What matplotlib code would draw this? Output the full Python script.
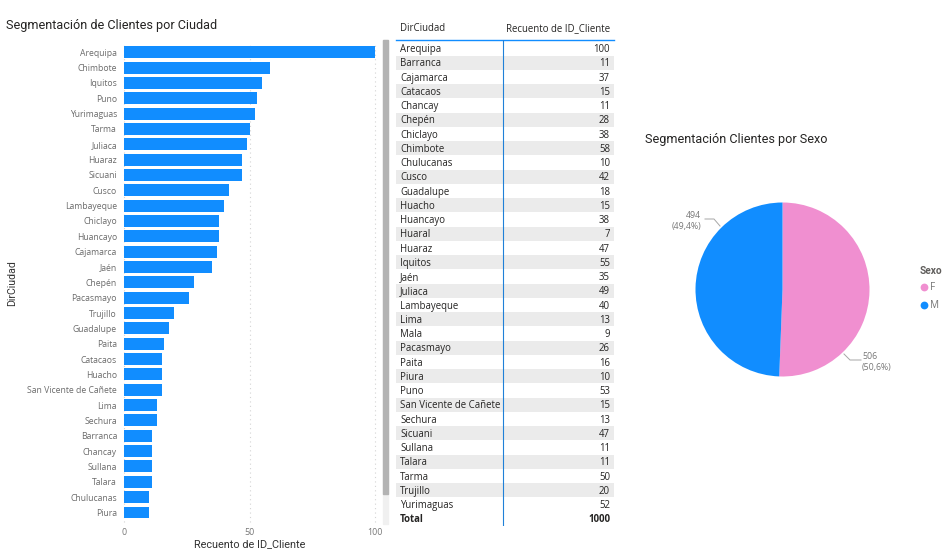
import matplotlib
matplotlib.use("Agg")
import matplotlib.pyplot as plt
from matplotlib.patches import Rectangle
from matplotlib.lines import Line2D

W, H = 948, 556
BLUE = "#118DFF"
PINK = "#F08FD0"

bar_cities = ["Arequipa","Chimbote","Iquitos","Puno","Yurimaguas","Tarma","Juliaca","Huaraz","Sicuani","Cusco",
              "Lambayeque","Chiclayo","Huancayo","Cajamarca","Jaén","Chepén","Pacasmayo","Trujillo","Guadalupe","Paita",
              "Catacaos","Huacho","San Vicente de Cañete","Lima","Sechura","Barranca","Chancay","Sullana","Talara",
              "Chulucanas","Piura"]
bar_values = [100,58,55,53,52,50,49,47,47,42,40,38,38,37,35,28,26,20,18,16,15,15,15,13,13,11,11,11,11,10,10]
x_ticks = [0, 50, 100]

table_cities = ["Arequipa","Barranca","Cajamarca","Catacaos","Chancay","Chepén","Chiclayo","Chimbote","Chulucanas",
                "Cusco","Guadalupe","Huacho","Huancayo","Huaral","Huaraz","Iquitos","Jaén","Juliaca","Lambayeque",
                "Lima","Mala","Pacasmayo","Paita","Piura","Puno","San Vicente de Cañete","Sechura","Sicuani",
                "Sullana","Talara","Tarma","Trujillo","Yurimaguas"]
table_values = [100,11,37,15,11,28,38,58,10,42,18,15,38,7,47,55,35,49,40,13,9,26,16,10,53,15,13,47,11,11,50,20,52]
table_total = 1000

sex_labels = ["F", "M"]
sex_values = [506, 494]
sex_text = ["506\n(50,6%)", "494\n(49,4%)"]

BODY = ["Open Sans", "DejaVu Sans"]
HEAD = ["Roboto", "DejaVu Sans"]
plt.rcParams["font.family"] = BODY

fig = plt.figure(figsize=(W / 100, H / 100), dpi=100, facecolor="white")

def fx(px): return px / W
def fy(py): return 1 - py / H
def box(x0, y0, x1, y1): return [fx(x0), fy(y1), (x1 - x0) / W, (y1 - y0) / H]

# ---------- bar chart
ax = fig.add_axes(box(124, 43, 375, 522))
ypos = list(range(len(bar_cities)))
ax.barh(ypos, bar_values, height=0.78, color=BLUE, zorder=3)
ax.set_xlim(0, 100)
ax.set_ylim(30.62, -0.6)
ax.set_yticks(ypos, bar_cities, fontsize=6.2, color="#6b6b6b")
ax.set_xticks(x_ticks, [str(v) for v in x_ticks], fontsize=6.4, color="#777777")
ax.tick_params(length=0, axis="y", pad=5)
ax.tick_params(length=0, axis="x", pad=4)
ax.grid(axis="x", color="#d4d4d4", linestyle=(0, (1, 3)), linewidth=0.8, zorder=0)
for g in ax.get_xgridlines():
    g.set_clip_on(False)
for s in ax.spines.values():
    s.set_visible(False)
ax.set_xlabel("Recuento de ID_Cliente", fontsize=7.8, color="#333333", family=HEAD, labelpad=2)
fig.text(fx(12), fy(283), "DirCiudad", rotation=90, fontsize=7.6, color="#333333", family=HEAD,
         ha="center", va="center")
fig.text(fx(6), fy(25), "Segmentación de Clientes por Ciudad", fontsize=9.05, color="#252423", family=HEAD,
         va="center", ha="left")

# ---------- scrollbar
fig.add_artist(Rectangle((fx(383), fy(524)), 5 / W, 484 / H, transform=fig.transFigure, color="#f0f0f0"))
fig.add_artist(Rectangle((fx(383), fy(494)), 5 / W, 454 / H, transform=fig.transFigure, color="#b3b3b3"))

# ---------- table
tb = fig.add_axes(box(396, 40, 614, 526))
tb.set_xlim(396, 614)
tb.set_ylim(33.5, -0.6)
tb.axis("off")
OFF = 0.07
for i, (c, v) in enumerate(zip(table_cities, table_values)):
    if i % 2 == 1:
        tb.axhspan(i - 0.5, i + 0.5, color="#ebebeb", lw=0, zorder=0)
    tb.text(400, i + OFF, c, fontsize=6.9, color="#252423", va="center", ha="left")
    tb.text(610, i + OFF, str(v), fontsize=6.9, color="#252423", va="center", ha="right")
n = len(table_cities)
tb.text(400, n + OFF, "Total", fontsize=6.9, fontweight="bold", color="#252423", va="center", ha="left")
tb.text(610, n + OFF, str(table_total), fontsize=6.9, fontweight="bold", color="#252423", va="center", ha="right")
tb.text(400, -1.38, "DirCiudad", fontsize=6.9, color="#252423", va="center", ha="left", clip_on=False)
tb.text(610, -1.38, "Recuento de ID_Cliente", fontsize=6.9, color="#252423", va="center", ha="right", clip_on=False)
tb.axhline(-0.6, color="#118DFF", lw=1.0, clip_on=False, zorder=5)
tb.axvline(503, color="#2080d8", lw=0.8, zorder=5)

# ---------- pie
fig.text(fx(645), fy(139.5), "Segmentación Clientes por Sexo", fontsize=9.05, color="#252423", family=HEAD,
         va="center", ha="left")
pie = fig.add_axes(box(695.5, 202.5, 869.5, 376.5))
pie.pie(sex_values, colors=[PINK, BLUE], startangle=90, counterclock=False, radius=1,
        wedgeprops=dict(linewidth=0))
pie.set_xlim(-1, 1)
pie.set_ylim(-1, 1)
pie.set_aspect("equal")

ov = fig.add_axes([0, 0, 1, 1], facecolor="none")
ov.set_xlim(0, W)
ov.set_ylim(H, 0)
ov.axis("off")
ov.add_line(Line2D([705, 714, 720], [219, 219, 226], color="#a6a6a6", lw=0.7))
ov.add_line(Line2D([844, 850, 861], [354, 360, 360], color="#a6a6a6", lw=0.7))
ov.text(701.5, 221, sex_text[1], fontsize=6.3, color="#777777", ha="right", va="center", linespacing=1.35)
ov.text(862, 362, sex_text[0], fontsize=6.3, color="#777777", ha="left", va="center", linespacing=1.35)

ov.text(920, 271, "Sexo", fontsize=7.3, fontweight="bold", color="#605e5c", family=HEAD, va="center", ha="left")
for lab, col, yy in zip(sex_labels, [PINK, BLUE], [287, 305]):
    ov.plot([924], [yy], "o", color=col, ms=5.6, mew=0)
    ov.text(930, yy, lab, fontsize=7.2, color="#777777", va="center", ha="left")

fig.savefig("out.png", dpi=100)
